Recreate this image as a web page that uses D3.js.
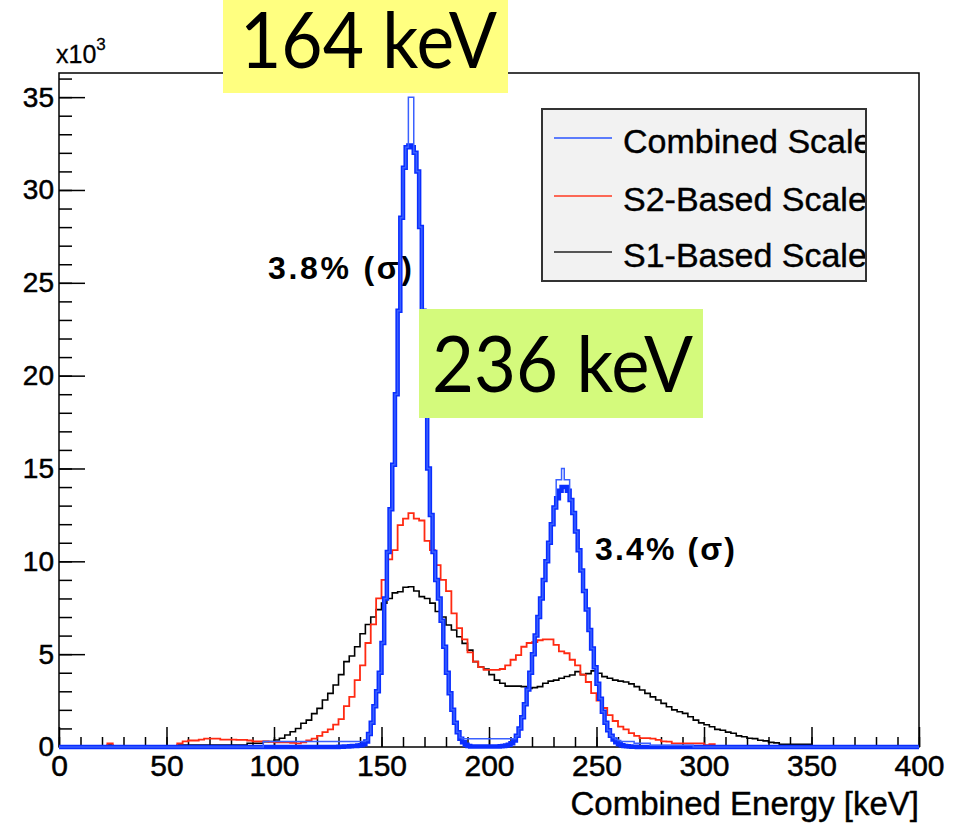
<!DOCTYPE html>
<html>
<head>
<meta charset="utf-8">
<script src="https://cdn.jsdelivr.net/npm/d3@7"></script>
<style>
  body { margin: 0; background: #fff; }
  svg { display: block; }
</style>
</head>
<body>
<div id="chart"></div>
<script>
// Counts are in units of 10^3 per bin.
// S1 / S2 histograms: 2.5 keV bins from 0 to 400 keV (160 bins)
const binWidth = 2.5;

// S1-based energy scale (black)
const s1Counts = [
  0, 0, 0, 0, 0, 0, 0, 0, 0, 0.1, 0, 0, 0, 0, 0, 0, 0, 0, 0, 0,
  0, 0, 0.1, 0.1, 0.1, 0.1, 0.1, 0.1, 0.1, 0.1, 0.1, 0.1, 0.1, 0.1, 0.1, 0.2, 0.2, 0.2, 0.29, 0.3,
  0.38, 0.47, 0.65, 0.82, 1.0, 1.28, 1.45, 1.8, 2.08, 2.53, 2.89, 3.34, 3.9, 4.6, 4.9, 5.4, 6.1, 6.6, 7.0, 7.4,
  7.75, 8.0, 8.3, 8.36, 8.6, 8.63, 8.4, 8.1, 8.0, 7.75, 7.3, 7.0, 6.57, 6.3, 5.94, 5.58, 5.22, 4.6, 4.3, 4.2,
  3.9, 3.6, 3.43, 3.28, 3.28, 3.28, 3.25, 3.16, 3.2, 3.25, 3.43, 3.55, 3.6, 3.7, 3.8, 3.88, 4.06, 3.9, 3.95, 4.1,
  3.97, 3.79, 3.7, 3.6, 3.55, 3.5, 3.4, 3.25, 3.07, 2.89, 2.7, 2.53, 2.35, 2.17, 2.0, 1.9, 1.81, 1.63, 1.45, 1.3,
  1.2, 1.09, 0.95, 0.9, 0.8, 0.74, 0.6, 0.55, 0.47, 0.45, 0.36, 0.33, 0.25, 0.22, 0.14, 0.14, 0.14, 0.14, 0.14, 0.14,
  0, 0, 0, 0, 0, 0, 0, 0, 0, 0, 0, 0, 0, 0, 0, 0, 0, 0, 0, 0
];

// S2-based energy scale (red)
const s2Counts = [
  0, 0, 0, 0, 0, 0, 0, 0, 0, 0.2, 0, 0, 0, 0, 0, 0, 0, 0, 0, 0,
  0, 0, 0.2, 0.3, 0.35, 0.35, 0.4, 0.45, 0.45, 0.45, 0.4, 0.4, 0.4, 0.38, 0.38, 0.35, 0.3, 0.3, 0.3, 0.28,
  0.25, 0.25, 0.25, 0.22, 0.2, 0.25, 0.35, 0.45, 0.6, 0.8, 0.95, 1.2, 1.5, 2.2, 2.7, 3.6, 4.4, 5.6, 6.6, 8.0,
  9.0, 10.1, 10.6, 11.95, 12.3, 12.6, 12.3, 12.2, 11.1, 10.6, 9.8, 9.0, 8.4, 7.2, 6.4, 5.8, 5.1, 4.6, 4.3, 4.15,
  4.15, 4.15, 4.2, 4.4, 4.7, 4.95, 5.4, 5.6, 5.65, 5.75, 5.8, 5.8, 5.5, 5.15, 5.05, 4.7, 4.4, 3.9, 3.5, 2.9,
  2.5, 2.1, 1.72, 1.4, 1.1, 0.95, 0.75, 0.6, 0.48, 0.48, 0.45, 0.38, 0.3, 0.29, 0.2, 0.2, 0.2, 0.2, 0.2, 0.2,
  0.1, 0.15, 0.05, 0.05, 0.05, 0.05, 0.05, 0.05, 0.05, 0.05, 0.05, 0.05, 0.05, 0.05, 0.05, 0.05, 0.05, 0.05, 0.05, 0.05,
  0.03, 0.03, 0.03, 0.03, 0.03, 0.03, 0.03, 0.03, 0.03, 0.03, 0.03, 0.03, 0.03, 0.03, 0.03, 0.03, 0.03, 0.03, 0.03, 0.03
];

// Combined scale histograms: 1.25 keV bins, zero outside the listed range
const fineBinWidth = 1.25;

// Combined energy scale (thick blue), bins from 130 keV
const combinedStart = 130;
const combinedCounts = [
  0.02, 0.02, 0.03, 0.03, 0.04, 0.05, 0.06, 0.08,
  0.1, 0.15, 0.3, 0.7, 1.3, 2.2, 3.0, 4.0,
  5.6, 8.0, 10.5, 12.8, 15.2, 19, 23.5, 28.5,
  31.2, 32.3, 32.4, 32.3, 32.0, 31.0, 28, 23.5,
  19, 15, 12.5, 10.5, 9, 8, 6.8, 5.4,
  4.0, 2.9, 2.0, 1.3, 0.8, 0.45, 0.25, 0.12,
  0.06, 0.03, 0.03, 0.03, 0.03, 0.03, 0.03, 0.03,
  0.03, 0.03, 0.03, 0.03, 0.04, 0.05, 0.08, 0.12,
  0.2, 0.35, 0.6, 1.0, 1.6, 2.3, 3.1, 4.0,
  5.0, 6.0, 7.0, 8.0, 9.0, 10.0, 11.0, 12.0,
  12.9, 13.4, 13.8, 14.0, 14.0, 13.8, 13.3, 12.6,
  11.6, 10.6, 9.5, 8.4, 7.4, 6.3, 5.3, 4.3,
  3.4, 2.6, 1.9, 1.3, 0.9, 0.6, 0.4, 0.25,
  0.15, 0.1, 0.06, 0.04, 0.03, 0.02, 0.01, 0
];

// Combined energy scale, second histogram (thin blue), bins from 90 keV
const combinedThinStart = 90;
const combinedThinCounts = [
  0, 0, 0, 0, 0.3, 0.3, 0.3, 0.3,
  0.3, 0.3, 0.3, 0.3, 0.3, 0.3, 0.3, 0.3,
  0.3, 0.3, 0.3, 0.3, 0.3, 0.3, 0.3, 0.3,
  0.3, 0.3, 0.3, 0.3, 0.3, 0.3, 0.3, 0.3,
  0.3, 0.3, 0.3, 0.3, 0.3, 0.3, 0.3, 0.3,
  0.3, 0.3, 0.35, 0.7, 1.3, 2.2, 3.0, 4.0,
  5.6, 8.0, 10.5, 12.8, 15.2, 19, 23.5, 28.5,
  31.2, 32.3, 35.0, 35.0, 32.0, 31.0, 28, 23.5,
  19, 15, 12.5, 10.5, 9, 8, 6.8, 5.4,
  4.0, 2.9, 2.0, 1.3, 0.8, 0.5, 0.45, 0.45,
  0.45, 0.45, 0.45, 0.45, 0.45, 0.45, 0.45, 0.45,
  0.45, 0.45, 0.45, 0.45, 0.45, 0.45, 0.45, 0.45,
  0.45, 0.45, 0.6, 1.0, 1.6, 2.3, 3.1, 4.0,
  5.0, 6.0, 7.0, 8.0, 9.0, 10.0, 11.0, 12.0,
  12.9, 14.4, 14.4, 15.0, 14.4, 14.4, 13.3, 12.6,
  11.6, 10.6, 9.5, 8.4, 7.4, 6.3, 5.3, 4.3,
  3.4, 2.6, 1.9, 1.3, 0.9, 0.6, 0.5, 0.4,
  0.35, 0.3, 0.3, 0.3, 0.3, 0.3, 0.2, 0.2,
  0.2, 0.2, 0.2, 0.2, 0.1, 0.1, 0.1, 0.1,
  0.1, 0.1, 0.1, 0.1, 0.1, 0.1, 0.1, 0.1,
  0.1, 0.1, 0.1, 0.1, 0, 0, 0, 0
];

const xTicks = [0, 50, 100, 150, 200, 250, 300, 350, 400];
const yTicks = [0, 5, 10, 15, 20, 25, 30, 35];
const legendLabels = ["Combined Scale", "S2-Based Scale", "S1-Based Scale"];
const xTitle = "Combined Energy [keV]";
const resolutionNotes = ["3.8% (σ)", "3.4% (σ)"];
const peakLabels = ["164 keV", "236 keV"];

// Layout
const width = 965;
const height = 827;
const margins = { top: 73, right: 46, bottom: 80, left: 59 };
const yMax = 36.3;
const font = "'Liberation Sans', Arial, Helvetica, sans-serif";

const x = d3.scaleLinear().domain([0, 400]).range([margins.left, width - margins.right]);
const y = d3.scaleLinear().domain([0, yMax]).range([height - margins.bottom, margins.top]);

const svg = d3.select('#chart')
  .append('svg')
  .attr('width', width)
  .attr('height', height);

svg.append('rect').attr('width', width).attr('height', height).attr('fill', '#fff');

// Frame
svg.append('rect')
  .attr('x', x(0))
  .attr('y', y(yMax))
  .attr('width', x(400) - x(0))
  .attr('height', y(0) - y(yMax))
  .attr('fill', 'none')
  .attr('stroke', '#000')
  .attr('stroke-width', 1.5);

// Axes: major + minor ticks pointing into the frame
const xAxisG = svg.append('g').attr('transform', `translate(0,${y(0)})`);
xAxisG.call(d3.axisBottom(x).tickValues(d3.range(0, 401, 10)).tickSize(-10).tickFormat(''));
xAxisG.append('g').attr('class', 'xlab')
  .call(d3.axisBottom(x).tickValues(xTicks).tickSize(-20).tickPadding(8).tickFormat(d3.format('d')));

const yAxisG = svg.append('g').attr('transform', `translate(${x(0)},0)`);
yAxisG.call(d3.axisLeft(y).tickValues(d3.range(0, 37, 1)).tickSize(-13).tickFormat(''));
yAxisG.append('g').attr('class', 'ylab')
  .call(d3.axisLeft(y).tickValues(yTicks).tickSize(-26).tickPadding(5).tickFormat(d3.format('d')));

svg.selectAll('.domain').remove();
svg.selectAll('.tick line').attr('stroke', '#000').attr('stroke-width', 1.5);
svg.selectAll('.tick text')
  .attr('font-family', font)
  .attr('font-size', 28)
  .attr('fill', '#000')
  .attr('stroke', '#000')
  .attr('stroke-width', 0.5);
svg.selectAll('.xlab .tick text').attr('font-size', 30);

// x10^3 multiplier
const mult = svg.append('text')
  .attr('x', 56)
  .attr('y', 63)
  .attr('font-family', font)
  .attr('font-size', 25)
  .attr('stroke', '#000')
  .attr('stroke-width', 0.3)
  .text('x10');
mult.append('tspan')
  .attr('font-size', 17)
  .attr('dy', -13)
  .text('3');

// Axis title
svg.append('text')
  .attr('x', x(400))
  .attr('y', 815)
  .attr('text-anchor', 'end')
  .attr('font-family', font)
  .attr('font-size', 33)
  .attr('stroke', '#000')
  .attr('stroke-width', 0.4)
  .text(xTitle);

// Resolution annotations (under the histograms)
const notePos = [
  { x: 268, y: 279, len: 144 },
  { x: 595, y: 560, len: 140 }
];
resolutionNotes.forEach((t, i) => {
  svg.append('text')
    .attr('x', notePos[i].x)
    .attr('y', notePos[i].y)
    .attr('font-family', font)
    .attr('font-weight', 'bold')
    .attr('font-size', 32)
    .attr('textLength', notePos[i].len)
    .attr('lengthAdjust', 'spacing')
    .text(t);
});

// Histograms as step lines
function stepPoints(counts, start, w) {
  const pts = counts.map((v, i) => [start + i * w, v]);
  pts.push([start + counts.length * w, counts[counts.length - 1]]);
  return pts;
}
function paddedPoints(counts, start, w) {
  // the histogram is empty outside its listed bins
  const pts = stepPoints(counts, start, w);
  const end = start + counts.length * w;
  return [[0, 0], ...pts.slice(0, -1), [end, 0], [400, 0]];
}
const step = d3.line()
  .x(d => x(d[0]))
  .y(d => y(d[1]))
  .curve(d3.curveStepAfter);

const series = [
  { pts: stepPoints(s1Counts, 0, binWidth), color: '#000000', w: 1.6 },
  { pts: stepPoints(s2Counts, 0, binWidth), color: '#ff2a12', w: 1.8 },
  { pts: paddedPoints(combinedCounts, combinedStart, fineBinWidth), color: '#0a2eff', w: 4.5 },
  { pts: paddedPoints(combinedThinCounts, combinedThinStart, fineBinWidth), color: '#3a60ff', w: 1.5 }
];
series.forEach(s => {
  svg.append('path')
    .attr('d', step(s.pts))
    .attr('fill', 'none')
    .attr('stroke', s.color)
    .attr('stroke-width', s.w)
    .attr('stroke-linejoin', 'miter');
});

// Legend
const legend = svg.append('g');
legend.append('clipPath').attr('id', 'legclip')
  .append('rect').attr('x', 542).attr('y', 109).attr('width', 323).attr('height', 172);
legend.append('rect')
  .attr('x', 542).attr('y', 109)
  .attr('width', 324).attr('height', 172)
  .attr('fill', '#f2f2f2')
  .attr('stroke', '#333')
  .attr('stroke-width', 2);
const legendColors = ['#2a55ff', '#ff3a22', '#222'];
const legendY = [138, 196, 252];
legendLabels.forEach((label, i) => {
  legend.append('line')
    .attr('x1', 554).attr('x2', 612)
    .attr('y1', legendY[i]).attr('y2', legendY[i])
    .attr('stroke', legendColors[i])
    .attr('stroke-width', 1.6);
  legend.append('text')
    .attr('x', 623)
    .attr('y', legendY[i] + 15)
    .attr('font-family', font)
    .attr('font-size', 34)
    .attr('stroke', '#000')
    .attr('stroke-width', 0.4)
    .attr('clip-path', 'url(#legclip)')
    .text(label);
});

// Peak energy labels
const peakBoxes = [
  { x: 223, y: 0, w: 285, h: 93, fill: '#ffff80', tx: 240, ty: 68, len: 257 },
  { x: 419, y: 309, w: 284, h: 109, fill: '#d4fa7c', tx: 432, ty: 392, len: 261 }
];
peakLabels.forEach((label, i) => {
  const b = peakBoxes[i];
  svg.append('rect')
    .attr('x', b.x).attr('y', b.y)
    .attr('width', b.w).attr('height', b.h)
    .attr('fill', b.fill);
  svg.append('text')
    .attr('x', b.tx).attr('y', b.ty)
    .attr('font-family', "Lato, 'Open Sans', sans-serif")
    .attr('font-size', 77)
    .attr('textLength', b.len)
    .attr('lengthAdjust', 'spacingAndGlyphs')
    .text(label);
});
</script>
</body>
</html>
